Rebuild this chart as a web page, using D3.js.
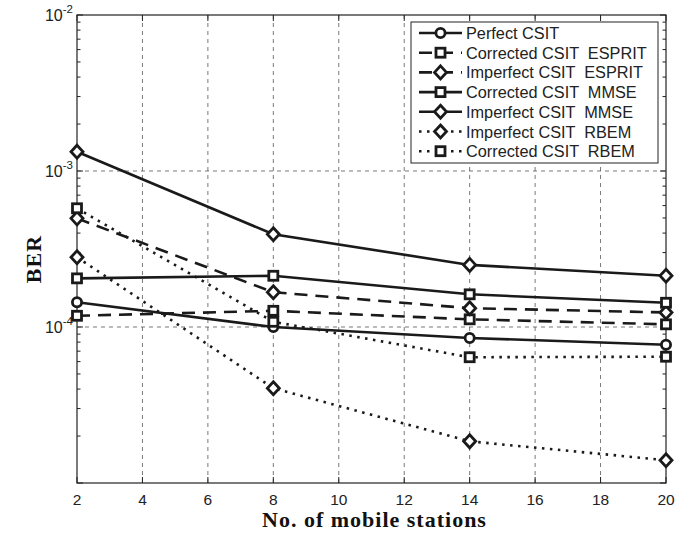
<!DOCTYPE html>
<html>
<head>
<meta charset="utf-8">
<script src="https://cdn.jsdelivr.net/npm/d3@7"></script>
<style>
  body { margin: 0; background: #fff; }
  svg { display: block; }
</style>
</head>
<body>
<script>
// data
const stations = [2, 8, 14, 20];
const seriesNames = [
  "Perfect CSIT",
  "Corrected CSIT  ESPRIT",
  "Imperfect CSIT  ESPRIT",
  "Corrected CSIT  MMSE",
  "Imperfect CSIT  MMSE",
  "Imperfect CSIT  RBEM",
  "Corrected CSIT  RBEM"
];
const perfectCsit = [1.44e-4, 1.0e-4, 8.5e-5, 7.7e-5];
const corrEsprit = [1.18e-4, 1.27e-4, 1.12e-4, 1.04e-4];
const impEsprit = [4.97e-4, 1.67e-4, 1.32e-4, 1.24e-4];
const corrMmse = [2.05e-4, 2.13e-4, 1.62e-4, 1.43e-4];
const impMmse = [1.33e-3, 3.93e-4, 2.5e-4, 2.13e-4];
const impRbem = [2.8e-4, 4.05e-5, 1.85e-5, 1.4e-5];
const corrRbem = [5.77e-4, 1.08e-4, 6.4e-5, 6.45e-5];
const xTicks = [2, 4, 6, 8, 10, 12, 14, 16, 18, 20];
const yTickExps = [-5, -4, -3, -2];
const yLabelExps = [-4, -3, -2];

const seriesValues = [perfectCsit, corrEsprit, impEsprit, corrMmse, impMmse, impRbem, corrRbem];
const seriesDash = ["none", "dash", "dash", "none", "none", "dot", "dot"];
const seriesMarker = ["circle", "square", "diamond", "square", "diamond", "diamond", "square"];

const width = 690, height = 536;
const margin = {left: 77, right: 24, top: 15, bottom: 53};
const innerW = width - margin.left - margin.right;
const innerH = height - margin.top - margin.bottom;

const svg = d3.select("body").append("svg")
  .attr("width", width)
  .attr("height", height);

const x = d3.scaleLinear().domain([2, 20]).range([margin.left, margin.left + innerW]);
const y = d3.scaleLog().domain([1e-5, 1e-2]).range([margin.top + innerH, margin.top]);

const x0 = margin.left, x1 = margin.left + innerW;
const y0 = margin.top + innerH, y1 = margin.top;

// grid
const grid = svg.append("g").attr("stroke", "#555").attr("stroke-width", 0.8)
  .attr("stroke-dasharray", "4,4");
xTicks.slice(1, -1).forEach(t => {
  grid.append("line").attr("x1", x(t)).attr("x2", x(t)).attr("y1", y0).attr("y2", y1);
});
yTickExps.slice(1, -1).forEach(e => {
  grid.append("line").attr("x1", x0).attr("x2", x1).attr("y1", y(Math.pow(10, e))).attr("y2", y(Math.pow(10, e)));
});

// axes with inward ticks
const axes = svg.append("g").attr("stroke", "#222").attr("stroke-width", 1);
xTicks.forEach(t => {
  axes.append("line").attr("x1", x(t)).attr("x2", x(t)).attr("y1", y0).attr("y2", y0 - 6);
  axes.append("line").attr("x1", x(t)).attr("x2", x(t)).attr("y1", y1).attr("y2", y1 + 6);
});
yTickExps.forEach(e => {
  const v = Math.pow(10, e);
  axes.append("line").attr("x1", x0).attr("x2", x0 + 6).attr("y1", y(v)).attr("y2", y(v));
  axes.append("line").attr("x1", x1).attr("x2", x1 - 6).attr("y1", y(v)).attr("y2", y(v));
  if (e < -2) {
    for (let m = 2; m <= 9; m++) {
      const mv = m * v;
      axes.append("line").attr("x1", x0).attr("x2", x0 + 3.5).attr("y1", y(mv)).attr("y2", y(mv));
      axes.append("line").attr("x1", x1).attr("x2", x1 - 3.5).attr("y1", y(mv)).attr("y2", y(mv));
    }
  }
});
axes.append("rect").attr("x", x0).attr("y", y1).attr("width", innerW).attr("height", innerH)
  .attr("fill", "none").attr("stroke-width", 1.2);

// tick labels
const tickFont = "'Liberation Sans', Arial, sans-serif";
svg.append("g").selectAll("text").data(xTicks).join("text")
  .attr("x", d => x(d)).attr("y", y0 + 22)
  .attr("text-anchor", "middle")
  .attr("font-family", tickFont).attr("font-size", 15.5).attr("fill", "#222")
  .text(d => d);

const yl = svg.append("g").selectAll("text").data(yLabelExps).join("text")
  .attr("x", x0 - 4).attr("y", d => y(Math.pow(10, d)) + 6)
  .attr("text-anchor", "end")
  .attr("font-family", tickFont).attr("font-size", 16).attr("fill", "#222");
yl.append("tspan").text("10");
yl.append("tspan").attr("font-size", 11.5).attr("dy", -8).text(d => d);

// axis titles
svg.append("text")
  .attr("x", x0 + innerW / 2 + 3).attr("y", 527)
  .attr("text-anchor", "middle")
  .attr("font-family", "'Liberation Serif', 'Times New Roman', serif")
  .attr("font-weight", "bold").attr("font-size", 22).attr("letter-spacing", 1)
  .attr("fill", "#111")
  .text("No. of mobile stations");

svg.append("text")
  .attr("transform", `translate(41, ${y1 + innerH / 2 + 10}) rotate(-90)`)
  .attr("text-anchor", "middle")
  .attr("font-family", "'Liberation Serif', 'Times New Roman', serif")
  .attr("font-weight", "bold").attr("font-size", 22).attr("letter-spacing", 1)
  .attr("fill", "#111")
  .text("BER");

// line helpers
function dashFor(kind) {
  if (kind === "dash") return "13,8";
  if (kind === "dot") return "2.5,5.5";
  return null;
}

function drawMarker(g, kind, cx, cy) {
  if (kind === "circle") {
    g.append("circle").attr("cx", cx).attr("cy", cy).attr("r", 4.6);
  } else if (kind === "square") {
    g.append("rect").attr("x", cx - 4.5).attr("y", cy - 4.5).attr("width", 9).attr("height", 9);
  } else {
    g.append("path").attr("d", `M${cx},${cy - 6.5}L${cx + 6},${cy}L${cx},${cy + 6.5}L${cx - 6},${cy}Z`);
  }
}

const line = d3.line().x((d, i) => x(stations[i])).y(d => y(d));

const plot = svg.append("g");
seriesValues.forEach((vals, si) => {
  plot.append("path").datum(vals)
    .attr("d", line)
    .attr("fill", "none").attr("stroke", "#1a1a1a")
    .attr("stroke-width", 2.6)
    .attr("stroke-dasharray", dashFor(seriesDash[si]));
  const mg = plot.append("g").attr("fill", "#fff").attr("stroke", "#1a1a1a").attr("stroke-width", 2.8);
  vals.forEach((v, i) => drawMarker(mg, seriesMarker[si], x(stations[i]), y(v)));
});

// legend
const lg = svg.append("g");
const lgX = 411, lgY = 22, lgW = 247, lgH = 141, rowH = 19.7;
lg.append("rect").attr("x", lgX).attr("y", lgY).attr("width", lgW).attr("height", lgH)
  .attr("fill", "#fff").attr("stroke", "#222").attr("stroke-width", 1);
seriesNames.forEach((name, si) => {
  const cy = lgY + 11 + si * rowH;
  lg.append("line").attr("x1", 419).attr("x2", 462).attr("y1", cy).attr("y2", cy)
    .attr("stroke", "#1a1a1a").attr("stroke-width", 2.6)
    .attr("stroke-dasharray", dashFor(seriesDash[si]));
  const mg = lg.append("g").attr("fill", "#fff").attr("stroke", "#1a1a1a").attr("stroke-width", 2.8);
  drawMarker(mg, seriesMarker[si], 440.5, cy);
  lg.append("text").attr("x", 466).attr("y", cy + 6)
    .attr("font-family", tickFont).attr("font-size", 16.3).attr("fill", "#222")
    .attr("xml:space", "preserve").style("white-space", "pre")
    .text(name);
});
</script>
</body>
</html>
